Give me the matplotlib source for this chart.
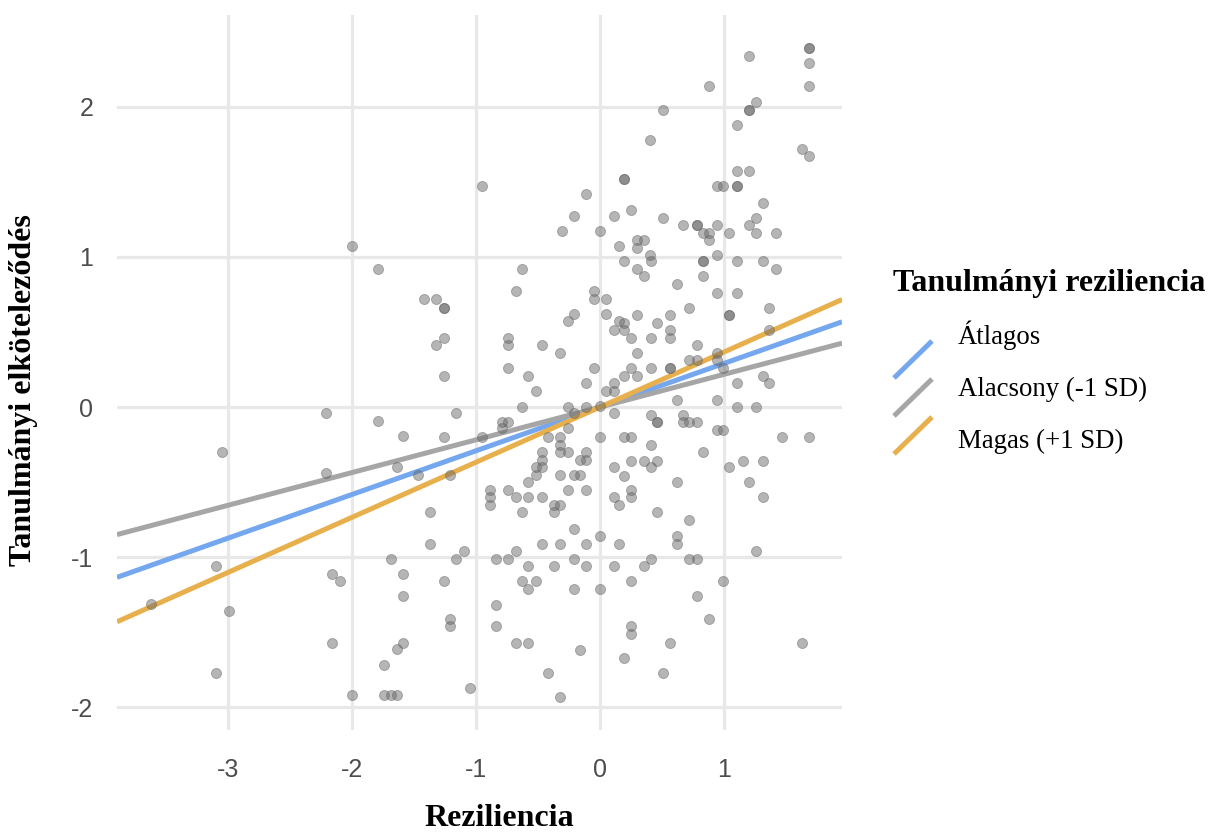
import matplotlib
matplotlib.use("Agg")
import matplotlib.pyplot as plt
from matplotlib.lines import Line2D

# scatter data (dark dots = two overlapping points)
reziliencia = [
    -2.00, -1.79, -2.21, -1.79, -1.59, -3.05, -2.21, -1.64, -1.69, -1.59,
    -3.10, -2.16, -2.10, -1.59, -3.62, -2.99, -2.16, -1.59, -1.64, -1.74,
    -3.10, -2.00, -1.74, -1.69, -1.64,
    -0.95, -0.11, -0.21, 0.11, -0.31, 0.00, 0.15,
    -0.63, -0.68, -1.42, -1.32, -1.26, -1.26, -0.05, -0.05, 0.05, -0.21,
    -0.26, 0.05, 0.15, 0.11, -1.26, -1.32, -0.74, -0.74, -0.47, -0.32,
    -0.74, -0.58, -1.26, -0.52, -0.05, -0.11, 0.05, 0.11, 0.11, -0.63,
    -0.26, -0.11, 0.00, -0.21, -1.16, 0.11, -0.79, -0.74, -0.79, -1.26,
    -0.95, -0.42, -0.32, -0.26, 0.00, -0.32, -0.32, -0.26, -0.47, -0.47,
    -0.11, -0.16, -0.11, -0.52, -0.47, 0.11, -1.47, -1.21, -0.52, -0.32,
    -0.21, -0.16, -0.58,
    -0.89, -0.89, -0.89, -0.74, -0.68, -0.58, -0.47, -0.37, -0.32, -0.37,
    -0.63, -0.26, -0.11, 0.11, 0.15, -1.37, -1.37, -0.21, 0.00, -0.47,
    -0.32, -0.11, 0.15, -1.10, -1.16, -0.84, -0.74, -0.68, -0.21, -0.58,
    -0.37, -0.11, 0.11, -1.26, -0.63, -0.52, -0.58, -0.21, 0.00, -0.84,
    -1.21, -1.21, -0.84, -0.68, -0.58, -0.16, -0.42, -1.05, -0.32,
    1.68, 1.68, 1.20, 1.68, 1.68, 0.88, 1.26, 1.20, 1.20, 0.51,
    1.10, 0.40, 1.63, 1.68, 0.19, 0.19, 1.10, 1.20, 0.94, 0.99,
    1.10, 1.10, 1.31, 0.25, 0.51, 0.67, 0.78, 0.78, 0.94, 0.83,
    0.88, 0.88, 1.04, 1.20, 1.26, 1.26, 1.42, 0.30, 0.35, 0.30,
    0.40, 0.94,
    0.19, 0.41, 0.83, 0.83, 1.10, 1.31, 1.42, 0.30, 0.35, 0.83,
    0.62, 0.94, 1.10, 0.72, 1.36, 1.04, 1.04, 0.30, 0.56, 0.19,
    0.46, 0.19, 0.56, 1.36, 0.25, 0.41, 0.56, 0.78, 0.30, 0.94,
    0.72, 0.78, 0.94, 0.99, 0.25, 0.41, 0.56, 0.56, 0.19, 0.30,
    1.31, 1.36, 1.10, 0.62, 0.94, 1.10, 1.26, 0.41, 0.67, 0.46,
    0.46, 0.67, 0.72, 0.78, 0.94, 0.99, 0.19, 0.25, 1.47, 1.68,
    0.41, 0.83, 0.25, 0.35, 0.46, 1.15, 1.31, 0.41, 1.04, 0.19,
    0.62, 1.20,
    0.25, 0.25, 1.31, 0.46, 0.72, 0.62, 0.62, 0.41, 0.72, 0.78,
    1.26, 0.35, 0.25, 0.99, 0.78, 0.88, 0.25, 0.25, 0.56, 1.63,
    0.19, 0.51,
]
elkotelezodes = [
    1.07, 0.92, -0.04, -0.09, -0.19, -0.30, -0.44, -0.40, -1.01, -1.11,
    -1.06, -1.11, -1.16, -1.26, -1.31, -1.36, -1.57, -1.57, -1.61, -1.72,
    -1.77, -1.92, -1.92, -1.92, -1.92,
    1.47, 1.42, 1.27, 1.27, 1.17, 1.17, 1.07,
    0.92, 0.77, 0.72, 0.72, 0.66, 0.66, 0.77, 0.72, 0.72, 0.62,
    0.57, 0.62, 0.57, 0.51, 0.46, 0.41, 0.46, 0.41, 0.41, 0.36,
    0.26, 0.21, 0.21, 0.11, 0.26, 0.16, 0.11, 0.16, 0.11, 0.00,
    0.00, 0.00, 0.01, -0.04, -0.04, -0.04, -0.10, -0.10, -0.14, -0.20,
    -0.20, -0.20, -0.20, -0.14, -0.20, -0.25, -0.30, -0.30, -0.30, -0.35,
    -0.30, -0.35, -0.35, -0.40, -0.40, -0.40, -0.45, -0.45, -0.45, -0.45,
    -0.45, -0.45, -0.50,
    -0.55, -0.60, -0.65, -0.55, -0.60, -0.60, -0.60, -0.65, -0.65, -0.70,
    -0.70, -0.55, -0.55, -0.60, -0.65, -0.70, -0.91, -0.81, -0.86, -0.91,
    -0.91, -0.91, -0.91, -0.96, -1.01, -1.01, -1.01, -0.96, -1.01, -1.06,
    -1.06, -1.06, -1.06, -1.16, -1.16, -1.16, -1.21, -1.21, -1.21, -1.32,
    -1.41, -1.46, -1.46, -1.57, -1.57, -1.62, -1.77, -1.87, -1.93,
    2.39, 2.39, 2.34, 2.29, 2.14, 2.14, 2.03, 1.98, 1.98, 1.98,
    1.88, 1.78, 1.72, 1.67, 1.52, 1.52, 1.57, 1.57, 1.47, 1.47,
    1.47, 1.47, 1.36, 1.31, 1.26, 1.21, 1.21, 1.21, 1.21, 1.16,
    1.16, 1.11, 1.16, 1.21, 1.26, 1.16, 1.16, 1.11, 1.11, 1.06,
    1.01, 1.01,
    0.97, 0.97, 0.97, 0.97, 0.97, 0.97, 0.92, 0.92, 0.87, 0.87,
    0.82, 0.76, 0.76, 0.66, 0.66, 0.61, 0.61, 0.61, 0.61, 0.56,
    0.56, 0.51, 0.51, 0.51, 0.46, 0.46, 0.46, 0.41, 0.36, 0.36,
    0.31, 0.31, 0.31, 0.26, 0.26, 0.26, 0.26, 0.26, 0.21, 0.21,
    0.21, 0.16, 0.16, 0.05, 0.05, 0.00, 0.00, -0.05, -0.05, -0.10,
    -0.10, -0.10, -0.10, -0.10, -0.15, -0.15, -0.20, -0.20, -0.20, -0.20,
    -0.25, -0.30, -0.36, -0.36, -0.36, -0.36, -0.36, -0.40, -0.40, -0.46,
    -0.50, -0.50,
    -0.55, -0.60, -0.60, -0.70, -0.75, -0.86, -0.91, -1.01, -1.01, -1.01,
    -0.96, -1.06, -1.16, -1.16, -1.26, -1.41, -1.46, -1.51, -1.57, -1.57,
    -1.67, -1.77,
]

# simple slopes
csoportok = ["Átlagos", "Alacsony (-1 SD)", "Magas (+1 SD)"]
meredekseg = [0.291, 0.218, 0.367]
tengelymetszet = [0.0, 0.0, 0.0]
szinek = ["#74a7ee", "#a6a6a6", "#e8b04c"]

xticks = [-3, -2, -1, 0, 1]
yticks = [-2, -1, 0, 1, 2]

W, H = 1210, 832
serif = "Liberation Serif"
sans = "Liberation Sans"


def px(x, y):
    # pixel position -> figure fraction
    return x / W, 1 - y / H


fig = plt.figure(figsize=(W / 100, H / 100), dpi=100)
left, top = px(117, 15)
right, bottom = px(842, 730)
ax = fig.add_axes([left, bottom, right - left, top - bottom])

for m, b, c in zip(meredekseg, tengelymetszet, szinek):
    ax.axline((0, b), slope=m, color=c, lw=3.6, solid_capstyle="butt", zorder=2)

ax.scatter(reziliencia, elkotelezodes, s=52, color="#666666", alpha=0.48,
           linewidths=0.7, edgecolors="#666666", zorder=3)

ax.set_xlim(-3.895, 1.95)
ax.set_ylim(-2.15, 2.61)
ax.set_xticks(xticks)
ax.set_yticks(yticks)
ax.set_xticklabels([str(v) for v in xticks])
ax.set_yticklabels([str(v) for v in yticks])
ax.grid(True, color="#e8e8e8", lw=2.3, zorder=0)
ax.set_axisbelow(True)
for s in ax.spines.values():
    s.set_visible(False)
ax.tick_params(length=0, labelsize=18, labelcolor="#4d4d4d")
ax.tick_params(axis="x", pad=20)
ax.tick_params(axis="y", pad=17)
for lab in ax.get_xticklabels() + ax.get_yticklabels():
    lab.set_family(sans)

fig.text(*px(499, 818), "Reziliencia", family=serif, weight="bold",
         fontsize=23, ha="center", va="center")
fig.text(*px(24, 390), "Tanulmányi elköteleződés", family=serif,
         weight="bold", fontsize=23, rotation=90, ha="center", va="center")

# legend drawn by hand, ggplot style diagonal keys
fig.text(*px(893, 283), "Tanulmányi reziliencia", family=serif,
         weight="bold", fontsize=23, ha="left", va="center")
for i, (nev, c) in enumerate(zip(csoportok, szinek)):
    cy = 359.5 + 38 * i
    x0, y0 = px(894, cy + 18.5)
    x1, y1 = px(932, cy - 18.5)
    fig.add_artist(Line2D([x0, x1], [y0, y1], color=c, lw=3.6,
                          transform=fig.transFigure, solid_capstyle="butt"))
    fig.text(*px(958, 344 + 52 * i), nev, family=serif, fontsize=19.3,
             ha="left", va="baseline")

fig.savefig("out.png", dpi=100)
